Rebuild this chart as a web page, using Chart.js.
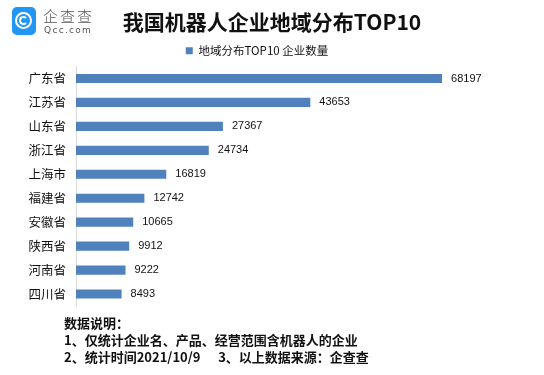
<!DOCTYPE html>
<html>
<head>
<meta charset="utf-8">
<script src="https://cdn.jsdelivr.net/npm/chart.js@4.4.0/dist/chart.umd.min.js"></script>
<style>
  body { margin: 0; background: #fff; }
  #wrap { position: relative; width: 544px; height: 375px; }
  #chart { position: absolute; left: 0; top: 0; }
  .logo { position: absolute; left: 12px; top: 7px; width: 24px; height: 28px; background: #2196f3; border-radius: 5px; }
  .logo span { position: absolute; left: 3px; top: 5px; width: 13px; height: 13px; border: 2px solid #fff; border-radius: 50%; }
  .logo i { position: absolute; left: 7px; top: 9px; width: 5px; height: 5px; border: 2px solid #fff; border-right-color: transparent; border-radius: 50%; }
  .brand { position: absolute; left: 43px; top: 5px; font: 300 15px "Noto Sans CJK SC"; color: #555; letter-spacing: 2px; }
  .brand2 { position: absolute; left: 44px; top: 25px; font: 9px "DejaVu Sans"; color: #555; letter-spacing: 1.3px; }
  .title { position: absolute; left: 0; width: 544px; top: 7px; text-align: center; padding-left: 0; font: bold 21px/28px "Noto Sans CJK SC"; color: #111; }
  .title span { position: relative; left: 0; }
  .note { position: absolute; left: 64px; top: 314px; font: bold 13px/17px "Noto Sans CJK SC"; color: #111; }
</style>
</head>
<body>
<div id="wrap">
  <canvas id="chart" width="544" height="375"></canvas>
  <div class="logo"><span></span><i></i></div>
  <div class="brand">企查查</div>
  <div class="brand2">Qcc.com</div>
  <div class="title" id="title"></div>
  <div class="note">数据说明：<br>1、仅统计企业名、产品、经营范围含机器人的企业<br>2、统计时间2021/10/9&nbsp;&nbsp;&nbsp;&nbsp;&nbsp;&nbsp;3、以上数据来源：企查查</div>
</div>
<script>
const provinces = ["广东省", "江苏省", "山东省", "浙江省", "上海市", "福建省", "安徽省", "陕西省", "河南省", "四川省"];
const companyCounts = [68197, 43653, 27367, 24734, 16819, 12742, 10665, 9912, 9222, 8493];
const seriesName = "地域分布TOP10 企业数量";
const chartTitle = "我国机器人企业地域分布TOP10";

document.getElementById("title").textContent = chartTitle;

// value labels at the end of each bar
const valueLabels = {
  id: "valueLabels",
  afterDatasetsDraw(chart) {
    const ctx = chart.ctx;
    const meta = chart.getDatasetMeta(0);
    ctx.save();
    ctx.font = "11px 'Liberation Sans'";
    ctx.fillStyle = "#111";
    ctx.textBaseline = "middle";
    meta.data.forEach((bar, i) => {
      ctx.fillText(companyCounts[i], bar.x + 9, bar.y);
    });
    ctx.restore();
  }
};

new Chart(document.getElementById("chart"), {
  type: "bar",
  data: {
    labels: provinces,
    datasets: [{
      label: seriesName,
      data: companyCounts,
      backgroundColor: "#4f81bd",
      barPercentage: 0.76,
      categoryPercentage: 0.5
    }]
  },
  options: {
    indexAxis: "y",
    responsive: false,
    animation: false,
    layout: { padding: { top: 35, left: 0, right: 30, bottom: 69 } },
    plugins: {
      legend: {
        labels: {
          boxWidth: 7,
          boxHeight: 7,
          color: "#111",
          font: { family: "Noto Sans CJK SC", size: 11.5 },
          padding: 10
        }
      },
      tooltip: { enabled: false }
    },
    scales: {
      x: { display: false, min: 0, max: 81600 },
      y: {
        afterFit(scale) { scale.width = 76; },
        grid: { display: false },
        border: { display: true, color: "#d9d9d9" },
        ticks: {
          color: "#111",
          padding: 2,
          font: { family: "Noto Sans CJK SC", size: 12.5 }
        }
      }
    }
  },
  plugins: [valueLabels]
});
</script>
</body>
</html>
